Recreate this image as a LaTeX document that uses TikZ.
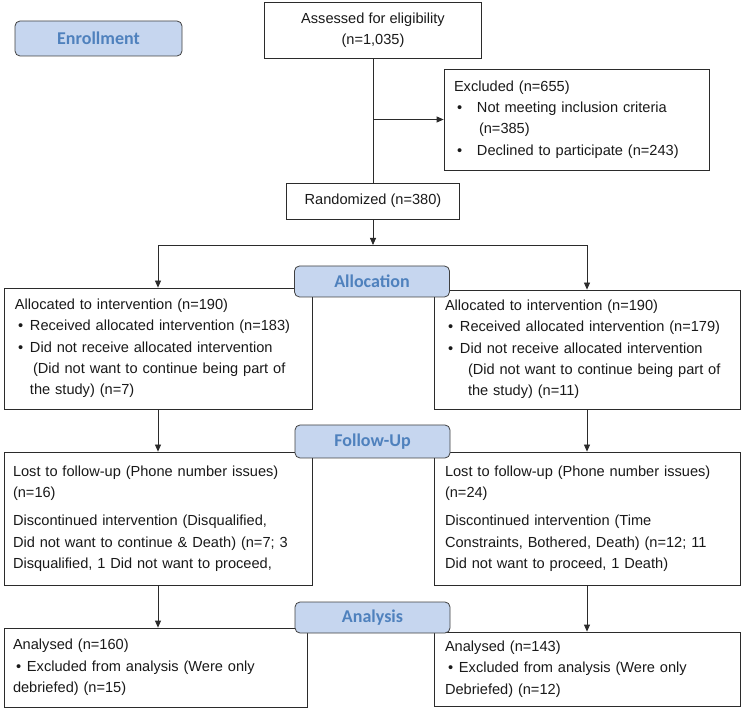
\documentclass[tikz,border=0pt]{standalone}
\usepackage{fontspec}
\setmainfont{Liberation Sans}
\newfontfamily\phasefont{Carlito}
\usetikzlibrary{arrows.meta}
\definecolor{phasefill}{HTML}{C6D6EF}
\definecolor{phasetext}{HTML}{4F81BD}
\definecolor{boxline}{HTML}{2B2B2B}
\newcommand{\bul}[1][15pt]{\makebox[#1][l]{\hspace{3pt}\textbullet}}
\tikzset{
	box/.style={draw=boxline, line width=0.8pt, inner sep=0pt, text=black!90, font=\fontsize{14.6}{21.3}\selectfont},
	textbox/.style={box, align=left},
	phase/.style={draw=black!75, fill=phasefill, rounded corners=5pt, line width=0.8pt, inner sep=0pt, text=phasetext, font=\phasefont\bfseries\fontsize{18}{20}\selectfont},
	flow/.style={line width=0.8pt, draw=boxline, -{Triangle[length=7pt,width=6pt]}},
	plain/.style={line width=0.8pt, draw=boxline}
}

\begin{document}
\begin{tikzpicture}[x=1pt, y=-1pt]
			%%%%% START %%%%%
			\useasboundingbox (0,0) rectangle (742,708);
			
			% enrollment
			\node[box, align=center, minimum width=217pt, minimum height=56pt] (assess) at (373,30) {Assessed for eligibility\\(n=1,035)};
			\node[textbox, text width=245pt, inner xsep=10pt, minimum height=101pt] (excl) at (576.5,119.5) {Excluded (n=655)\\\bul[23pt]Not meeting inclusion criteria\\\hspace*{25pt}(n=385)\\\bul[23pt]Declined to participate (n=243)};
			\node[box, minimum width=173pt, minimum height=36pt] (rand) at (373,201) {Randomized (n=380)};
			
			% allocation
			\node[textbox, text width=286pt, inner xsep=11pt, minimum height=121pt] (allocL) at (158,348.5) {Allocated to intervention (n=190)\\\bul Received allocated intervention (n=183)\\\bul Did not receive allocated intervention\\\hspace*{18pt}(Did not want to continue being part of\\\hspace*{15pt}the study) (n=7)};
			\node[textbox, text width=288pt, inner xsep=9pt, minimum height=119pt] (allocR) at (587,349.5) {\hspace*{2pt}Allocated to intervention (n=190)\\\hspace*{2pt}\bul Received allocated intervention (n=179)\\\hspace*{2pt}\bul Did not receive allocated intervention\\\hspace*{25pt}(Did not want to continue being part of\\\hspace*{25pt}the study) (n=11)};
			
			% follow-up
			\node[textbox, text width=290pt, inner xsep=9pt, minimum height=133pt] (fuL) at (158,518.5) {Lost to follow-up (Phone number issues)\\(n=16)\\[7pt]Discontinued intervention (Disqualified,\\Did not want to continue \& Death) (n=7; 3\\Disqualified, 1 Did not want to proceed,};
			\node[textbox, text width=284pt, inner xsep=11pt, minimum height=133pt] (fuR) at (587,518.5) {Lost to follow-up (Phone number issues)\\(n=24)\\[7pt]Discontinued intervention (Time\\Constraints, Bothered, Death) (n=12; 11\\Did not want to proceed, 1 Death)};
			
			% analysis
			\node[textbox, text width=285pt, inner xsep=9pt, minimum height=79pt] (anaL) at (155.5,667.5) {Analysed (n=160)\\\bul[14pt]Excluded from analysis (Were only\\debriefed) (n=15)};
			\node[textbox, text width=284pt, inner xsep=11pt, minimum height=74pt] (anaR) at (587,669) {Analysed (n=143)\\\bul[14pt]Excluded from analysis (Were only\\Debriefed) (n=12)};
			
			% connectors
			\draw[plain] (assess.south) -- (rand.north);
			\draw[flow] (assess.south |- excl.west) -- (excl.west);
			\coordinate (split) at (373,245);
			\draw[flow] (rand.south) -- (split);
			\draw[flow] (split) -| (allocL.north);
			\draw[flow] (split) -| (allocR.north);
			\draw[flow] (allocL.south) -- (fuL.north);
			\draw[flow] (allocR.south) -- (fuR.north);
			\draw[flow] (fuL.south) -- (fuL.south |- anaL.north);
			\draw[flow] (fuR.south) -- (anaR.north);
			
			% phase labels
			\node[phase, minimum width=167pt, minimum height=35pt] (enroll) at (98.5,38.5) {Enrollment};
			\node[phase, minimum width=155pt, minimum height=31pt] (allocLab) at (372,281.5) {Allocation};
			\node[phase, minimum width=155pt, minimum height=33pt] (fuLab) at (372.5,441.5) {Follow-Up};
			\node[phase, minimum width=155pt, minimum height=31pt] (anaLab) at (372.5,617.5) {Analysis};
			
			%%%%% END %%%%%
\end{tikzpicture}
\end{document}
